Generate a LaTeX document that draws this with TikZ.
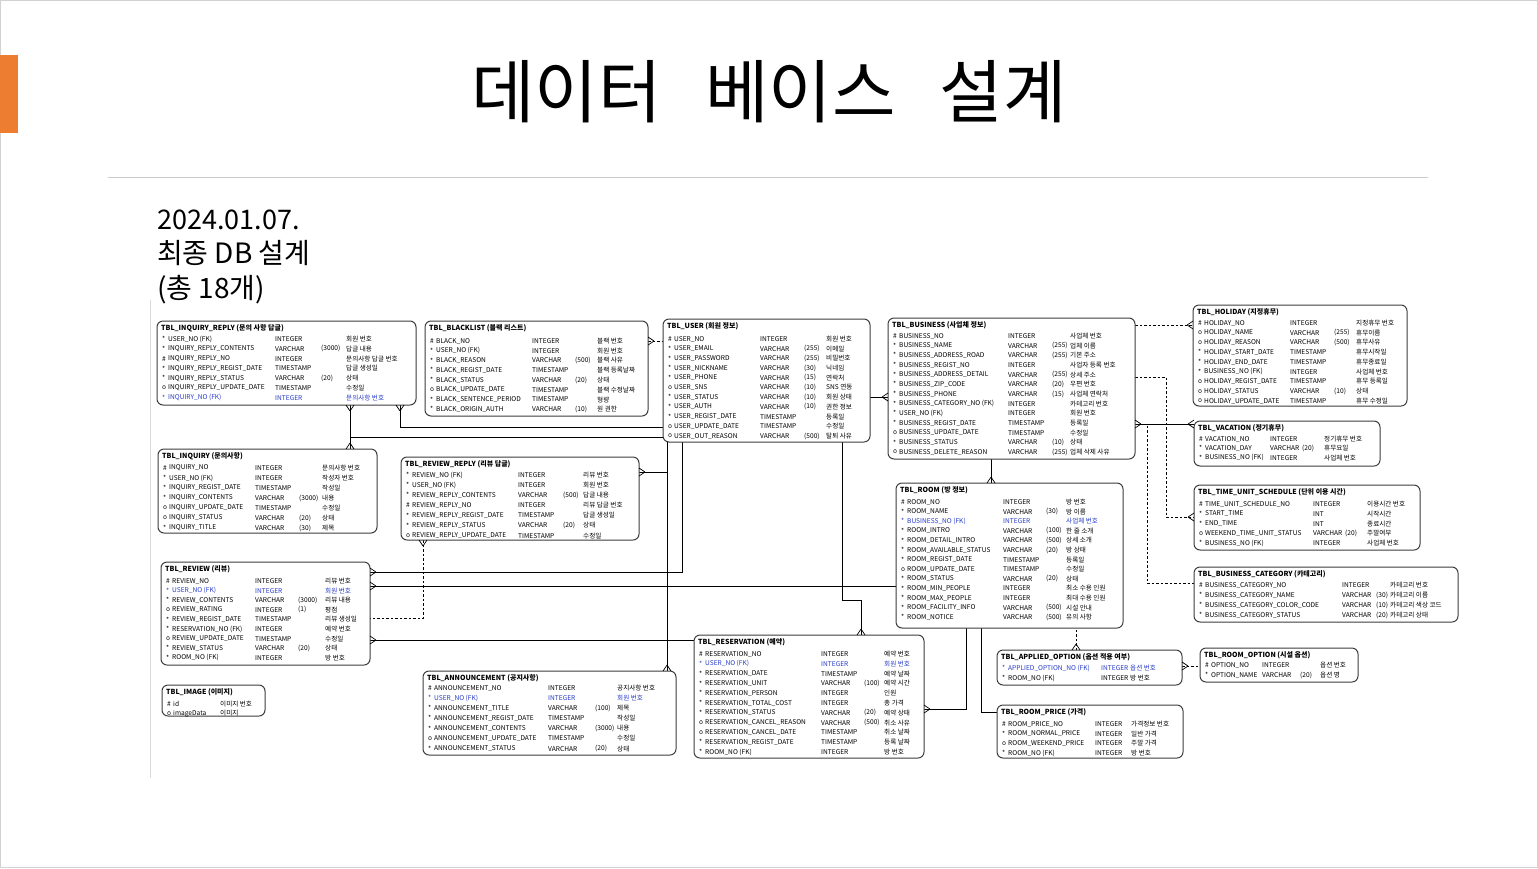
\documentclass[tikz,border=0pt]{standalone}
\usepackage{fontspec}
\setmainfont{Noto Sans CJK KR}
\usetikzlibrary{calc}

\definecolor{slideorange}{RGB}{237,125,49}
\definecolor{fkblue}{RGB}{40,60,200}
\definecolor{boxline}{RGB}{60,60,60}

\tikzset{
  tblbox/.style={draw=boxline, line width=1pt, rounded corners=6pt, fill=white, inner sep=0pt},
  tbltitle/.style={anchor=west, inner sep=0pt, font=\fontsize{7}{8}\selectfont\bfseries},
  cell/.style={anchor=west, inner sep=0pt, font=\fontsize{6.6}{7}\selectfont},
  conn/.style={line width=0.7pt},
  opt/.style={conn, dash pattern=on 2.5pt off 2pt},
}

% 테이블 틀과 행
\newcounter{rowi}
\newcommand{\tbl}[6]{%
  \def\tn{#1}\def\tx{#2}\def\ty{#3}\setcounter{rowi}{0}%
  \node[tblbox, minimum width=#4pt, minimum height=#5pt] (#1) at (#2+#4/2, #3+#5/2) {};
  \node[tbltitle] (#1-title) at (#2+4, #3+7) {#6};}
\newcommand{\cols}[5]{\def\ry{#1}\def\rdy{#2}\def\ca{#3}\def\cb{#4}\def\cc{#5}}
\newcommand{\rmark}[1]{\if p#1\#\else\if o#1o\else *\fi\fi}
\newcommand{\rw}[5]{\stepcounter{rowi}%
  \if b#1\def\rc{fkblue}\else\def\rc{black}\fi
  \pgfmathsetmacro\yy{\ty+\ry+(\therowi-1)*\rdy}
  \node[cell,text=\rc] (\tn-\therowi-m) at (\tx+5,\yy) {\rmark{#1}};
  \node[cell,text=\rc] (\tn-\therowi-n) at (\tx+11,\yy) {#2};
  \node[cell,text=\rc] (\tn-\therowi-y) at (\tx+\ca,\yy) {#3};
  \node[cell,text=\rc] (\tn-\therowi-l) at (\tx+\cb,\yy) {#4};
  \node[cell,text=\rc] (\tn-\therowi-c) at (\tx+\cc,\yy) {#5};}
% 까마귀발
\newcommand{\crow}[2]{\draw[conn] ($(#1)+(#2+180:6)$) -- ($(#1)+(#2+90:4)$)
  ($(#1)+(#2+180:6)$) -- ($(#1)+(#2-90:4)$);}

\catcode`\_=12

\begin{document}
\begin{tikzpicture}[x=1pt, y=-1pt]
  \useasboundingbox (0,0) rectangle (1538,868);
  \draw[gray!35, line width=1pt] (0.5,0.5) rectangle (1537.5,867.5);

  % 제목
  \fill[slideorange] (0,55) rectangle (18,133);
  \node[font=\fontsize{69}{72}\selectfont, inner sep=0] (title) at (769,92) {데이터\hspace{44pt}베이스\hspace{44pt}설계};
  \draw[gray!40, line width=1pt] (108,177) -- (1428,177);
  \node[anchor=base west, inner sep=0, font=\fontsize{27}{30}\selectfont] (date) at (157,229) {2024.01.07.};
  \node[anchor=base west, inner sep=0, font=\fontsize{28}{30}\selectfont] (sub) at (157,263.5) {최종 DB 설계};
  \node[anchor=base west, inner sep=0, font=\fontsize{28}{30}\selectfont] (count) at (157,298) {(총 18개)};
  \draw[gray!30, line width=1pt] (150,300) -- (150,778);

  % 연결선
  \coordinate (iqr-b1) at (350,405);
  \coordinate (iq-t1) at (350,449);
  \coordinate (iqr-b2) at (400,405);
  \coordinate (user-l1) at (663,427);
  \coordinate (user-l2) at (663,437);
  \coordinate (bl-r) at (648,341);
  \coordinate (user-l3) at (663,341);
  \coordinate (user-r) at (870,397);
  \coordinate (biz-l) at (888,397);
  \coordinate (biz-r1) at (1135,325);
  \coordinate (hol-l) at (1193,325);
  \coordinate (biz-r2) at (1135,377);
  \coordinate (tus-l) at (1194,517);
  \coordinate (biz-r3) at (1135,424);
  \coordinate (cat-l) at (1194,583);
  \coordinate (vac-l) at (1194,424);
  \coordinate (biz-b) at (991,459);
  \coordinate (room-t) at (991,483);
  \coordinate (rv-r1) at (370,572);
  \coordinate (user-b1) at (682,442);
  \coordinate (rv-r2) at (370,586);
  \coordinate (room-l1) at (896,586);
  \coordinate (rv-r3) at (370,640);
  \coordinate (res-l) at (694,640);
  \coordinate (rr-b) at (423,540);
  \coordinate (rv-r4) at (370,618);
  \coordinate (rr-r) at (639,472);
  \coordinate (user-b2) at (667,442);
  \coordinate (an-t) at (667,671);
  \coordinate (user-b3) at (842,442);
  \coordinate (res-t) at (861,635);
  \coordinate (res-r) at (924,709);
  \coordinate (room-b1) at (966,628);
  \coordinate (rp-l) at (997,712);
  \coordinate (room-b2) at (981,628);
  \coordinate (ao-t) at (1076,650);
  \coordinate (room-b3) at (1076,628);
  \coordinate (ao-r) at (1182,666);
  \coordinate (opt-l) at (1200,666);

  \draw[conn] (iqr-b1) -- (iq-t1);
  \draw[conn] (iq-t1) -- (user-l2 -| iq-t1) -- (user-l2);
  \draw[conn] (iqr-b2) |- (user-l1);
  \draw[opt] (bl-r) -- (user-l3);
  \draw[conn] (user-r) -- (biz-l);
  \draw[opt] (biz-r1) -- (hol-l);
  \draw[opt] (biz-r2) -| (1166,517) -- (tus-l);
  \draw[opt] (biz-r3) -| (1147,583) -- (cat-l);
  \draw[conn] (biz-r3) -- (vac-l);
  \draw[conn] (biz-b) -- (room-t);
  \draw[conn] (rv-r1) -| (user-b1);
  \draw[conn] (rv-r2) -- (room-l1);
  \draw[conn] (rv-r3) -- (res-l);
  \draw[opt] (rr-b) |- (rv-r4);
  \draw[conn] (rr-r) -| (user-b2);
  \draw[conn] (an-t) -- (user-b2);
  \draw[conn] (user-b3) |- (861,600) -- (res-t);
  \draw[conn] (res-r) -| (room-b1);
  \draw[conn] (rp-l) -| (room-b2);
  \draw[opt] (ao-t) -- (room-b3);
  \draw[opt] (ao-r) -- (opt-l);

  % 테이블
  \tbl{iqr}{157}{321}{259}{84}{TBL_INQUIRY_REPLY (문의 사항 답글)}
  \cols{18}{9.8}{118}{164}{189}
  \rw{s}{USER_NO (FK)}{INTEGER}{}{회원 번호}
  \rw{s}{INQUIRY_REPLY_CONTENTS}{VARCHAR}{(3000)}{답글 내용}
  \rw{p}{INQUIRY_REPLY_NO}{INTEGER}{}{문의사항 답글 번호}
  \rw{s}{INQUIRY_REPLY_REGIST_DATE}{TIMESTAMP}{}{답글 생성일}
  \rw{s}{INQUIRY_REPLY_STATUS}{VARCHAR}{(20)}{상태}
  \rw{o}{INQUIRY_REPLY_UPDATE_DATE}{TIMESTAMP}{}{수정일}
  \rw{b}{INQUIRY_NO (FK)}{INTEGER}{}{문의사항 번호}

  \tbl{bl}{425}{321}{223}{95}{TBL_BLACKLIST (블랙 리스트)}
  \cols{20}{9.75}{107}{150}{172}
  \rw{p}{BLACK_NO}{INTEGER}{}{블랙 번호}
  \rw{s}{USER_NO (FK)}{INTEGER}{}{회원 번호}
  \rw{s}{BLACK_REASON}{VARCHAR}{(500)}{블랙 사유}
  \rw{s}{BLACK_REGIST_DATE}{TIMESTAMP}{}{블랙 등록날짜}
  \rw{s}{BLACK_STATUS}{VARCHAR}{(20)}{상태}
  \rw{o}{BLACK_UPDATE_DATE}{TIMESTAMP}{}{블랙 수정날짜}
  \rw{s}{BLACK_SENTENCE_PERIOD}{TIMESTAMP}{}{형량}
  \rw{s}{BLACK_ORIGIN_AUTH}{VARCHAR}{(10)}{원 권한}

  \tbl{user}{663}{319}{207}{123}{TBL_USER (회원 정보)}
  \cols{20}{9.7}{97}{141}{163}
  \rw{p}{USER_NO}{INTEGER}{}{회원 번호}
  \rw{s}{USER_EMAIL}{VARCHAR}{(255)}{이메일}
  \rw{s}{USER_PASSWORD}{VARCHAR}{(255)}{비밀번호}
  \rw{s}{USER_NICKNAME}{VARCHAR}{(30)}{닉네임}
  \rw{s}{USER_PHONE}{VARCHAR}{(15)}{연락처}
  \rw{o}{USER_SNS}{VARCHAR}{(10)}{SNS 연동}
  \rw{s}{USER_STATUS}{VARCHAR}{(10)}{회원 상태}
  \rw{s}{USER_AUTH}{VARCHAR}{(10)}{권한 정보}
  \rw{s}{USER_REGIST_DATE}{TIMESTAMP}{}{등록일}
  \rw{o}{USER_UPDATE_DATE}{TIMESTAMP}{}{수정일}
  \rw{o}{USER_OUT_REASON}{VARCHAR}{(500)}{탈퇴 사유}

  \tbl{biz}{888}{318}{247}{141}{TBL_BUSINESS (사업체 정보)}
  \cols{18}{9.67}{120}{164}{182}
  \rw{p}{BUSINESS_NO}{INTEGER}{}{사업체 번호}
  \rw{s}{BUSINESS_NAME}{VARCHAR}{(255)}{업체 이름}
  \rw{s}{BUSINESS_ADDRESS_ROAD}{VARCHAR}{(255)}{기본 주소}
  \rw{s}{BUSINESS_REGIST_NO}{INTEGER}{}{사업자 등록 번호}
  \rw{s}{BUSINESS_ADDRESS_DETAIL}{VARCHAR}{(255)}{상세 주소}
  \rw{s}{BUSINESS_ZIP_CODE}{VARCHAR}{(20)}{우편 번호}
  \rw{s}{BUSINESS_PHONE}{VARCHAR}{(15)}{사업체 연락처}
  \rw{s}{BUSINESS_CATEGORY_NO (FK)}{INTEGER}{}{카테고리 번호}
  \rw{s}{USER_NO (FK)}{INTEGER}{}{회원 번호}
  \rw{s}{BUSINESS_REGIST_DATE}{TIMESTAMP}{}{등록일}
  \rw{o}{BUSINESS_UPDATE_DATE}{TIMESTAMP}{}{수정일}
  \rw{s}{BUSINESS_STATUS}{VARCHAR}{(10)}{상태}
  \rw{o}{BUSINESS_DELETE_REASON}{VARCHAR}{(255)}{업체 삭제 사유}

  \tbl{hol}{1193}{305}{214}{101}{TBL_HOLIDAY (지정휴무)}
  \cols{18}{9.75}{97}{141}{163}
  \rw{p}{HOLIDAY_NO}{INTEGER}{}{지정휴무 번호}
  \rw{o}{HOLIDAY_NAME}{VARCHAR}{(255)}{휴무이름}
  \rw{o}{HOLIDAY_REASON}{VARCHAR}{(500)}{휴무사유}
  \rw{s}{HOLIDAY_START_DATE}{TIMESTAMP}{}{휴무시작일}
  \rw{s}{HOLIDAY_END_DATE}{TIMESTAMP}{}{휴무종료일}
  \rw{s}{BUSINESS_NO (FK)}{INTEGER}{}{사업체 번호}
  \rw{o}{HOLIDAY_REGIST_DATE}{TIMESTAMP}{}{휴무 등록일}
  \rw{o}{HOLIDAY_STATUS}{VARCHAR}{(10)}{상태}
  \rw{o}{HOLIDAY_UPDATE_DATE}{TIMESTAMP}{}{휴무 수정일}

  \tbl{vac}{1194}{421}{186}{45}{TBL_VACATION (정기휴무)}
  \cols{18}{9.3}{76}{108}{130}
  \rw{p}{VACATION_NO}{INTEGER}{}{정기휴무 번호}
  \rw{s}{VACATION_DAY}{VARCHAR}{(20)}{휴무요일}
  \rw{s}{BUSINESS_NO (FK)}{INTEGER}{}{사업체 번호}

  \tbl{iq}{158}{449}{219}{84}{TBL_INQUIRY (문의사항)}
  \cols{19}{10}{97}{141}{164}
  \rw{p}{INQUIRY_NO}{INTEGER}{}{문의사항 번호}
  \rw{s}{USER_NO (FK)}{INTEGER}{}{작성자 번호}
  \rw{s}{INQUIRY_REGIST_DATE}{TIMESTAMP}{}{작성일}
  \rw{s}{INQUIRY_CONTENTS}{VARCHAR}{(3000)}{내용}
  \rw{o}{INQUIRY_UPDATE_DATE}{TIMESTAMP}{}{수정일}
  \rw{o}{INQUIRY_STATUS}{VARCHAR}{(20)}{상태}
  \rw{s}{INQUIRY_TITLE}{VARCHAR}{(30)}{제목}

  \tbl{rr}{401}{457}{238}{83}{TBL_REVIEW_REPLY (리뷰 답글)}
  \cols{18}{10.1}{117}{162}{182}
  \rw{s}{REVIEW_NO (FK)}{INTEGER}{}{리뷰 번호}
  \rw{s}{USER_NO (FK)}{INTEGER}{}{회원 번호}
  \rw{s}{REVIEW_REPLY_CONTENTS}{VARCHAR}{(500)}{답글 내용}
  \rw{p}{REVIEW_REPLY_NO}{INTEGER}{}{리뷰 답글 번호}
  \rw{s}{REVIEW_REPLY_REGIST_DATE}{TIMESTAMP}{}{답글 생성일}
  \rw{s}{REVIEW_REPLY_STATUS}{VARCHAR}{(20)}{상태}
  \rw{o}{REVIEW_REPLY_UPDATE_DATE}{TIMESTAMP}{}{수정일}

  \tbl{room}{896}{483}{227}{145}{TBL_ROOM (방 정보)}
  \cols{19}{9.6}{107}{150}{170}
  \rw{p}{ROOM_NO}{INTEGER}{}{방 번호}
  \rw{s}{ROOM_NAME}{VARCHAR}{(30)}{방 이름}
  \rw{b}{BUSINESS_NO (FK)}{INTEGER}{}{사업체 번호}
  \rw{s}{ROOM_INTRO}{VARCHAR}{(100)}{한 줄 소개}
  \rw{s}{ROOM_DETAIL_INTRO}{VARCHAR}{(500)}{상세 소개}
  \rw{s}{ROOM_AVAILABLE_STATUS}{VARCHAR}{(20)}{방 상태}
  \rw{s}{ROOM_REGIST_DATE}{TIMESTAMP}{}{등록일}
  \rw{o}{ROOM_UPDATE_DATE}{TIMESTAMP}{}{수정일}
  \rw{s}{ROOM_STATUS}{VARCHAR}{(20)}{상태}
  \rw{s}{ROOM_MIN_PEOPLE}{INTEGER}{}{최소 수용 인원}
  \rw{s}{ROOM_MAX_PEOPLE}{INTEGER}{}{최대 수용 인원}
  \rw{s}{ROOM_FACILITY_INFO}{VARCHAR}{(500)}{시설 안내}
  \rw{s}{ROOM_NOTICE}{VARCHAR}{(500)}{유의 사항}

  \tbl{tus}{1194}{485}{226}{65}{TBL_TIME_UNIT_SCHEDULE (단위 이용 시간)}
  \cols{19}{9.8}{119}{151}{173}
  \rw{p}{TIME_UNIT_SCHEDULE_NO}{INTEGER}{}{이용시간 번호}
  \rw{s}{START_TIME}{INT}{}{시작시간}
  \rw{s}{END_TIME}{INT}{}{종료시간}
  \rw{o}{WEEKEND_TIME_UNIT_STATUS}{VARCHAR}{(20)}{주말여부}
  \rw{s}{BUSINESS_NO (FK)}{INTEGER}{}{사업체 번호}

  \tbl{cat}{1194}{567}{264}{55}{TBL_BUSINESS_CATEGORY (카테고리)}
  \cols{18}{10}{148}{182}{196}
  \rw{p}{BUSINESS_CATEGORY_NO}{INTEGER}{}{카테고리 번호}
  \rw{s}{BUSINESS_CATEGORY_NAME}{VARCHAR}{(30)}{카테고리 이름}
  \rw{s}{BUSINESS_CATEGORY_COLOR_CODE}{VARCHAR}{(10)}{카테고리 색상 코드}
  \rw{s}{BUSINESS_CATEGORY_STATUS}{VARCHAR}{(20)}{카테고리 상태}

  \tbl{rv}{161}{562}{209}{103}{TBL_REVIEW (리뷰)}
  \cols{19}{9.6}{94}{137}{164}
  \rw{p}{REVIEW_NO}{INTEGER}{}{리뷰 번호}
  \rw{b}{USER_NO (FK)}{INTEGER}{}{회원 번호}
  \rw{s}{REVIEW_CONTENTS}{VARCHAR}{(3000)}{리뷰 내용}
  \rw{o}{REVIEW_RATING}{INTEGER}{(1)}{평점}
  \rw{s}{REVIEW_REGIST_DATE}{TIMESTAMP}{}{리뷰 생성일}
  \rw{s}{RESERVATION_NO (FK)}{INTEGER}{}{예약 번호}
  \rw{o}{REVIEW_UPDATE_DATE}{TIMESTAMP}{}{수정일}
  \rw{s}{REVIEW_STATUS}{VARCHAR}{(20)}{상태}
  \rw{s}{ROOM_NO (FK)}{INTEGER}{}{방 번호}

  \tbl{img}{162}{685}{103}{31}{TBL_IMAGE (이미지)}
  \cols{19}{9.5}{58}{58}{58}
  \rw{p}{id}{}{}{이미지 번호}
  \rw{o}{imageData}{}{}{이미지}

  \tbl{an}{423}{671}{253}{84}{TBL_ANNOUNCEMENT (공지사항)}
  \cols{17}{10.1}{125}{172}{194}
  \rw{p}{ANNOUNCEMENT_NO}{INTEGER}{}{공지사항 번호}
  \rw{b}{USER_NO (FK)}{INTEGER}{}{회원 번호}
  \rw{s}{ANNOUNCEMENT_TITLE}{VARCHAR}{(100)}{제목}
  \rw{s}{ANNOUNCEMENT_REGIST_DATE}{TIMESTAMP}{}{작성일}
  \rw{s}{ANNOUNCEMENT_CONTENTS}{VARCHAR}{(3000)}{내용}
  \rw{o}{ANNOUNCEMENT_UPDATE_DATE}{TIMESTAMP}{}{수정일}
  \rw{s}{ANNOUNCEMENT_STATUS}{VARCHAR}{(20)}{상태}

  \tbl{res}{694}{635}{230}{123}{TBL_RESERVATION (예약)}
  \cols{19}{9.8}{127}{170}{190}
  \rw{p}{RESERVATION_NO}{INTEGER}{}{예약 번호}
  \rw{b}{USER_NO (FK)}{INTEGER}{}{회원 번호}
  \rw{s}{RESERVATION_DATE}{TIMESTAMP}{}{예약 날짜}
  \rw{s}{RESERVATION_UNIT}{VARCHAR}{(100)}{예약 시간}
  \rw{s}{RESERVATION_PERSON}{INTEGER}{}{인원}
  \rw{s}{RESERVATION_TOTAL_COST}{INTEGER}{}{총 가격}
  \rw{s}{RESERVATION_STATUS}{VARCHAR}{(20)}{예약 상태}
  \rw{o}{RESERVATION_CANCEL_REASON}{VARCHAR}{(500)}{취소 사유}
  \rw{o}{RESERVATION_CANCEL_DATE}{TIMESTAMP}{}{취소 날짜}
  \rw{s}{RESERVATION_REGIST_DATE}{TIMESTAMP}{}{등록 날짜}
  \rw{s}{ROOM_NO (FK)}{INTEGER}{}{방 번호}

  \tbl{ao}{997}{650}{185}{35}{TBL_APPLIED_OPTION (옵션 적용 여부)}
  \cols{18}{10}{104}{133}{133}
  \rw{b}{APPLIED_OPTION_NO (FK)}{INTEGER}{}{옵션 번호}
  \rw{s}{ROOM_NO (FK)}{INTEGER}{}{방 번호}

  \tbl{opt}{1200}{648}{158}{34}{TBL_ROOM_OPTION (시설 옵션)}
  \cols{17}{10}{62}{100}{120}
  \rw{p}{OPTION_NO}{INTEGER}{}{옵션 번호}
  \rw{s}{OPTION_NAME}{VARCHAR}{(20)}{옵션 명}

  \tbl{rp}{997}{705}{186}{53}{TBL_ROOM_PRICE (가격)}
  \cols{19}{9.7}{98}{134}{134}
  \rw{p}{ROOM_PRICE_NO}{INTEGER}{}{가격정보 번호}
  \rw{s}{ROOM_NORMAL_PRICE}{INTEGER}{}{일반 가격}
  \rw{o}{ROOM_WEEKEND_PRICE}{INTEGER}{}{주말 가격}
  \rw{s}{ROOM_NO (FK)}{INTEGER}{}{방 번호}

  % 까마귀발 표시
  \crow{iqr-b1}{270}
  \crow{iqr-b2}{270}
  \crow{iq-t1}{90}
  \crow{bl-r}{180}
  \crow{biz-l}{0}
  \crow{hol-l}{0}
  \crow{tus-l}{0}
  \crow{vac-l}{0}
  \crow{biz-r3}{180}
  \crow{room-t}{90}
  \crow{rv-r1}{180}
  \crow{rv-r2}{180}
  \crow{rv-r3}{180}
  \crow{rr-b}{270}
  \crow{rr-r}{180}
  \crow{an-t}{90}
  \crow{res-t}{90}
  \crow{res-r}{180}
  \crow{ao-t}{90}
  \crow{ao-r}{180}
\end{tikzpicture}
\end{document}
